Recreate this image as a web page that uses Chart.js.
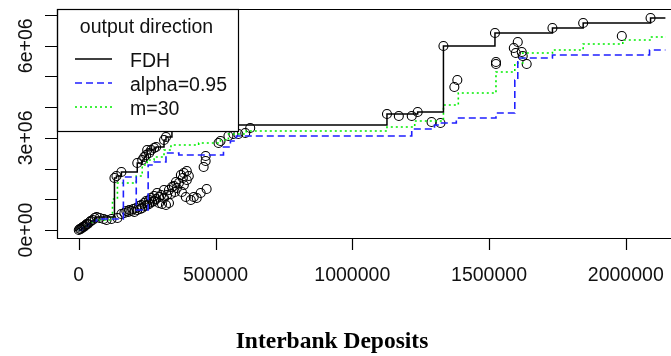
<!DOCTYPE html>
<html>
<head>
<meta charset="utf-8">
<script src="https://cdn.jsdelivr.net/npm/chart.js@4.4.1/dist/chart.umd.min.js"></script>
<style>
    html, body { margin: 0; padding: 0; background: #fff; }
    canvas { display: block; }
</style>
</head>
<body>
<canvas id="chart" width="671" height="356"></canvas>
<script>
// observed banks: interbank deposits (input) vs output
const depositsX = [
    0, 3600, 7200, 10900, 14500, 18100, 21700, 25400, 29000, 32600, 39900, 43500, 50700, 58000, 65200,
    76100, 90600, 101400, 119600, 141300,
    155800, 166700, 173900, 181200, 184800, 192000, 199300, 202900, 210100, 213800, 221000, 224600,
    228300, 231900, 239100, 242800, 246400, 250000, 257200, 257200, 264500, 268100, 275400, 275400,
    282600, 286200, 293500, 293500, 300700, 304300, 311600, 311600, 318800, 322500, 329700, 329700,
    337000, 340600, 347800, 351400, 358700, 365900, 373200, 380400, 384100, 394900, 394900, 402200,
    376800, 391300, 409400, 420300, 431200, 445600, 467400, 384100, 355100,
    130400, 137700, 155800, 213800, 231900, 239100, 246400, 257200, 264500, 275400, 282600, 250000,
    311600, 318800, 340600, 463800, 463800, 456500, 510900, 518100, 547100, 565200, 583300, 608700, 626800,
    1126800, 1170200, 1217400, 1239100, 1289800, 1322400, 1333300, 1384100, 1373200, 1521700, 1525400,
    1525400, 1605100, 1590600, 1597800, 1619600, 1623200, 1637700, 1731900, 1844200, 1985500, 2090600
];
const outputY = [
    0, 32600, 32600, 65100, 97700, 97700, 130300, 162900, 195400, 195400, 260600, 293200, 325700, 390900, 423400,
    390900, 358300, 325700, 358300, 390900,
    521200, 553700, 618900, 586300, 651500, 618900, 684000, 586300, 716600, 651500, 781800, 684000,
    814300, 716600, 879500, 781800, 944600, 814300, 977200, 846900, 1042300, 912000, 1107500, 944600,
    1009800, 1205200, 1074900, 879500, 1140100, 846900, 1302900, 1042300, 814300, 1140100, 1302900, 879500,
    1172600, 1400600, 1433200, 1237800, 1368100, 1530900, 1791500, 1693800, 1856700, 1921800, 1628700, 1758900,
    1237800, 1074900, 977200, 1074900, 1042300, 1205200, 1335500, 1465800, 1563500,
    1693800, 1758900, 1889200, 2182400, 2280100, 2377800, 2443000, 2508100, 2605800, 2671000, 2703600, 2605800,
    2931600, 3029300, 3420200, 2410400, 2247500, 2052100, 2833900, 2899000, 3061900, 3127000, 3127000, 3159600, 3322400,
    3778500, 3713300, 3713300, 3843600, 3517900, 3485300, 5993400, 4886000, 4657900, 6416900, 5472300,
    5407100, 6123700, 5928300, 5765400, 5798000, 5667700, 5407100, 6579700, 6742600, 6319100, 6905500
];

// frontier estimates (step points)
const fdhX = [0, 10900, 21700, 32600, 43500, 58000, 65200, 130400, 137700, 155800, 213800, 231900, 239100,
    246400, 250000, 275400, 282600, 311600, 318800, 340600, 1126800, 1239100, 1333300, 1521700, 1731900,
    1844200, 2090600, 2250000];
const fdhY = [0, 65100, 130300, 195400, 293200, 390900, 423400, 1693800, 1758900, 1889200, 2182400, 2280100,
    2377800, 2443000, 2605800, 2671000, 2703600, 2931600, 3029300, 3420200, 3778500, 3843600, 5993400,
    6416900, 6579700, 6742600, 6905500, 6905500];

const alphaX = [0, 10900, 21700, 32600, 47100, 65200, 163000, 210100, 253600, 275400, 318800, 365900, 529000,
    554300, 576100, 1217400, 1300700, 1326100, 1380400, 1525400, 1594200, 1605100, 1731900, 2086900, 2250000];
const alphaY = [0, 65100, 130300, 195400, 293200, 358300, 1726400, 651500, 2117200, 2215000, 2508100, 2443000,
    2703600, 2899000, 3061900, 3289900, 3420200, 3485300, 3648200, 3811000, 4886000, 5602600, 5700300,
    5863100, 5863100];

const orderMX = [0, 10900, 21700, 32600, 43500, 58000, 123200, 141300, 210100, 231900, 250000, 275400, 311600,
    337000, 438400, 518100, 547100, 612300, 1126800, 1228300, 1333300, 1387700, 1525400, 1594200, 1623200,
    1731900, 1844200, 1989100, 2094200, 2250000];
const orderMY = [0, 65100, 130300, 195400, 260600, 325700, 1009800, 1530900, 1758900, 2117200, 2280100,
    2377800, 2605800, 2768700, 2833900, 2931600, 3127000, 3224700, 3355000, 3550300, 4071600, 4462500,
    5146500, 5439700, 5765400, 5863100, 6058600, 6188900, 6286600, 6286600];

const xTicks = [0, 500000, 1000000, 1500000, 2000000];
const xTickLabels = ["0", "500000", "1000000", "1500000", "2000000"];
const yTicks = [0, 1000000, 2000000, 3000000, 4000000, 5000000, 6000000, 7000000];
const yTickLabels = ["0e+00", "", "", "3e+06", "", "", "6e+06", ""];
const xTitle = "Interbank Deposits";
const legendTitle = "output direction";
const seriesNames = ["FDH", "alpha=0.95", "m=30"];

const SANS = "19.5px 'Liberation Sans', Arial, sans-serif";

function toPoints(xs, ys) {
    return xs.map((x, i) => ({ x: x, y: ys[i] }));
}

// R style axes: box, outside ticks, rotated y labels
const rAxes = {
    id: "rAxes",
    afterDraw(chart) {
        const { ctx, chartArea: a, scales: { x, y } } = chart;
        ctx.save();
        ctx.strokeStyle = "#000";
        ctx.lineWidth = 1.2;
        ctx.beginPath();
        ctx.moveTo(chart.width, a.top + 0.5);
        ctx.lineTo(a.left + 0.5, a.top + 0.5);
        ctx.lineTo(a.left + 0.5, a.bottom + 0.5);
        ctx.lineTo(chart.width, a.bottom + 0.5);
        xTicks.forEach(v => {
            const px = Math.round(x.getPixelForValue(v)) + 0.5;
            ctx.moveTo(px, a.bottom);
            ctx.lineTo(px, a.bottom + 12);
        });
        yTicks.forEach(v => {
            const py = Math.round(y.getPixelForValue(v)) + 0.5;
            ctx.moveTo(a.left, py);
            ctx.lineTo(a.left - 12, py);
        });
        ctx.stroke();

        ctx.fillStyle = "#111";
        ctx.font = SANS;
        ctx.textAlign = "center";
        ctx.textBaseline = "alphabetic";
        xTicks.forEach((v, i) => ctx.fillText(xTickLabels[i], x.getPixelForValue(v), a.bottom + 43));
        yTicks.forEach((v, i) => {
            if (!yTickLabels[i]) return;
            ctx.save();
            ctx.translate(a.left - 25, y.getPixelForValue(v));
            ctx.rotate(-Math.PI / 2);
            ctx.fillText(yTickLabels[i], 0, 0);
            ctx.restore();
        });

        ctx.fillStyle = "#000";
        ctx.font = "bold 23.5px 'Liberation Serif', 'Times New Roman', serif";
        ctx.fillText(xTitle, 332, 348);
        ctx.restore();
    }
};

// legend box in the top-left corner of the plot, drawn over the data
const rLegend = {
    id: "rLegend",
    afterDatasetsDraw(chart) {
        const { ctx, chartArea: a } = chart;
        const w = 181, h = 122;
        ctx.save();
        ctx.fillStyle = "#fff";
        ctx.fillRect(a.left, a.top, w, h);
        ctx.strokeStyle = "#000";
        ctx.lineWidth = 1.2;
        ctx.strokeRect(a.left + 0.5, a.top + 0.5, w, h);

        ctx.fillStyle = "#111";
        ctx.font = SANS;
        ctx.textAlign = "center";
        ctx.fillText(legendTitle, a.left + 89.5, a.top + 24);

        ctx.textAlign = "left";
        chart.data.datasets.slice(1).forEach((ds, i) => {
            const yy = a.top + 50 + i * 24;
            ctx.strokeStyle = ds.borderColor;
            ctx.lineWidth = ds.borderWidth;
            ctx.setLineDash(ds.borderDash || []);
            ctx.beginPath();
            ctx.moveTo(a.left + 18, yy);
            ctx.lineTo(a.left + 55, yy);
            ctx.stroke();
            ctx.setLineDash([]);
            ctx.fillText(ds.label, a.left + 73, yy + 8);
        });
        ctx.restore();
    }
};

const stepLine = {
    type: "line",
    stepped: "before",
    fill: false,
    pointRadius: 0,
    tension: 0
};

new Chart(document.getElementById("chart"), {
    type: "scatter",
    data: {
        datasets: [
            {
                label: "banks",
                data: toPoints(depositsX, outputY),
                pointRadius: 4.5,
                pointBorderWidth: 1.1,
                borderColor: "#000",
                backgroundColor: "rgba(0,0,0,0)",
                order: 4
            },
            {
                ...stepLine,
                label: seriesNames[0],
                data: toPoints(fdhX, fdhY),
                borderColor: "#000",
                borderWidth: 1.5,
                order: 1
            },
            {
                ...stepLine,
                label: seriesNames[1],
                data: toPoints(alphaX, alphaY),
                borderColor: "#1f1fff",
                borderWidth: 1.6,
                borderDash: [7, 4],
                order: 2
            },
            {
                ...stepLine,
                label: seriesNames[2],
                data: toPoints(orderMX, orderMY),
                borderColor: "#00ee00",
                borderWidth: 1.6,
                borderDash: [2, 3],
                order: 3
            }
        ]
    },
    options: {
        responsive: false,
        devicePixelRatio: 1,
        animation: false,
        layout: { padding: { left: 57, top: 9, right: 0, bottom: 118 } },
        plugins: {
            legend: { display: false },
            tooltip: { enabled: false },
            title: { display: false }
        },
        scales: {
            x: { type: "linear", display: false, min: -79700, max: 2144900 },
            y: { type: "linear", display: false, min: -260600, max: 7198600 }
        }
    },
    plugins: [rLegend, rAxes]
});
</script>
</body>
</html>
